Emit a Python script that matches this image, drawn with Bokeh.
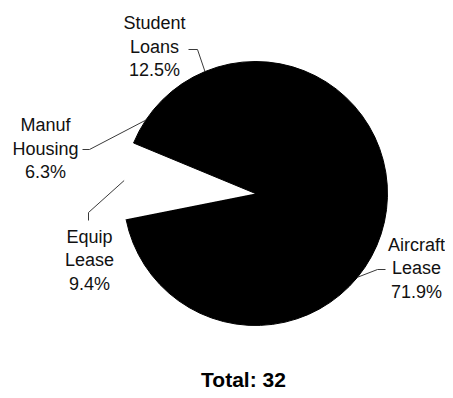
import math
from bokeh.plotting import figure
from bokeh.models import Range1d, ColumnDataSource
from bokeh.core.properties import value
from bokeh.embed import file_html
from bokeh.resources import INLINE

# ---- data ----
categories = ["Aircraft Lease", "Equip Lease", "Manuf Housing", "Student Loans"]
counts = [23, 3, 2, 4]
slice_colors = ["#000000", "#ffffff", "#000000", "#000000"]
title_text = "Total: " + str(sum(counts))

# ---- layout (pixels, origin top-left of the figure) ----
W, H = 445, 390
def sy(y):  # screen y -> data y
    return H - y

cx, cy, R = 255, sy(193), 132
FONT = value("Liberation Sans")

p = figure(width=W, height=H, output_backend="svg", toolbar_location=None,
           x_range=Range1d(0, W), y_range=Range1d(0, H),
           min_border=0)
p.axis.visible = False
p.grid.visible = False
p.outline_line_color = None
p.background_fill_color = "white"
p.border_fill_color = "white"

total = sum(counts)
k = 360.0 / total
starts, ends, mids = [], [], []
cum = 0
for c in counts:
    a_before = 90 - cum * k
    cum += c
    a_after = 90 - cum * k
    starts.append(math.radians(a_after))
    ends.append(math.radians(a_before))
    mids.append(math.radians((a_before + a_after) / 2))

src = ColumnDataSource(dict(start=starts, end=ends, color=slice_colors,
                            lalpha=[0 if c == "#ffffff" else 1 for c in slice_colors]))
p.wedge(x=cx, y=cy, radius=R, start_angle="start", end_angle="end",
        direction="anticlock", fill_color="color", line_color="color",
        line_alpha="lalpha", line_width=1, source=src)

def pct(c):
    v = math.floor(c * 1000.0 / total + 0.5) / 10.0
    return f"{v:.1f}%"

# label anchors: (center x, first baseline y, elbow point, outer point)
label_layout = {
    "Aircraft Lease": (416, 244, (377, 269), (385, 269)),
    "Equip Lease": (89, 236, (88, 212), (88, 220)),
    "Manuf Housing": (45, 124.5, (89, 149), (82, 149)),
    "Student Loans": (154, 22.5, (197, 49), (188, 49)),
}
STEP = 23.5

xs_l, ys_l = [], []
tx, ty, tt = [], [], []
for cat, c, m in zip(categories, counts, mids):
    lx, ly, elbow, outer = label_layout[cat]
    lines = cat.split(" ") + [pct(c)]
    for i, ln in enumerate(lines):
        tx.append(lx)
        ty.append(sy(ly + i * STEP))
        tt.append(ln)
    ex, ey = cx + R * math.cos(m), cy + R * math.sin(m)
    xs_l.append([ex, elbow[0], outer[0]])
    ys_l.append([ey, sy(elbow[1]), sy(outer[1])])

p.multi_line(xs=xs_l, ys=ys_l, line_color="#3a3a3a", line_width=1)

p.text(x=tx, y=ty, text=tt, text_font=FONT, text_font_size="18px",
       text_align="center", text_baseline="alphabetic", text_color="#111111")

p.text(x=[243], y=[sy(379)], text=[title_text], text_font=FONT,
       text_font_size="21px", text_font_style="bold", text_align="center",
       text_baseline="alphabetic", text_color="#000000")

open("out.html", "w").write(file_html(p, INLINE))
